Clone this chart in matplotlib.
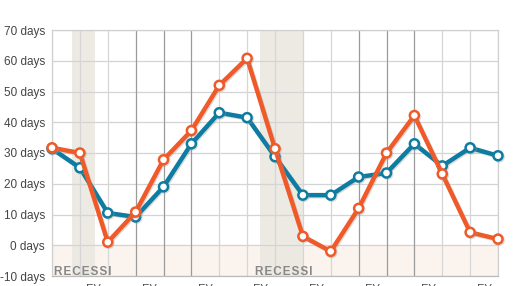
import matplotlib
matplotlib.use('Agg')
import matplotlib.pyplot as plt
import matplotlib.patheffects as pe

# values
blue = [31.4, 25.2, 10.5, 9.2, 19.0, 33.0, 43.1, 41.5, 28.8, 16.3, 16.3,
        22.2, 23.5, 33.0, 25.8, 31.7, 29.1]
orange = [31.7, 30.0, 1.0, 10.8, 27.8, 37.3, 52.0, 60.8, 31.4, 2.9, -2.0,
          12.0, 30.0, 42.2, 23.2, 4.2, 2.0]
recessions = [(0.72, 1.54), (7.46, 9.0)]
dark_grid = [3, 4, 5, 11, 12, 13]
fy_pos = [1.5, 3.5, 5.5, 7.5, 9.5, 11.5, 13.5, 15.5]
fy_labels = ['FY'] * len(fy_pos)
y_ticks = [-10, 0, 10, 20, 30, 40, 50, 60, 70]

# where the recession captions sit (layout)
caption_x = [0.07, 7.3]

plt.rcParams['font.family'] = ['Liberation Sans', 'DejaVu Sans']

W, H = 517, 286
fig = plt.figure(figsize=(W / 100, H / 100), dpi=100)
ax = fig.add_axes([52 / W, 1 - 276 / H, (498 - 52) / W, (276 - 30) / H])

x = list(range(len(blue)))
ax.set_xlim(0, len(blue) - 1)
ax.set_ylim(-10, 70)

# negative zone + recession bands
ax.axhspan(-10, 0, color='#fbf3ee', zorder=0)
for (a, b), cx in zip(recessions, caption_x):
    ax.axvspan(a, b, color='#ebe8e1', alpha=0.9, zorder=0.5, lw=0)
    ax.text(cx, -8.8, '\u200a'.join('RECESSI'), color='#888888',
            fontsize=8.5, fontweight='bold', ha='left', va='center', zorder=1)

for yv in y_ticks:
    ax.axhline(yv, color='#d4d4d4', lw=0.9, zorder=0.6)
for i in x:
    c = '#9a9a9a' if i in dark_grid else '#d6d6d6'
    ax.axvline(i, color=c, lw=0.9, zorder=0.6)

shadow = [pe.SimpleLineShadow(offset=(0.8, -0.8), shadow_color='#999999', alpha=0.35),
          pe.Normal()]
ax.plot(x, blue, color='#0e7ca1', lw=3.2, marker='o', ms=6.5, mfc='white',
        mew=1.8, mec='#0e7ca1', zorder=3, path_effects=shadow, clip_on=False)
ax.plot(x, orange, color='#ef5a28', lw=3.2, marker='o', ms=6.5, mfc='white',
        mew=1.8, mec='#ef5a28', zorder=4, path_effects=shadow, clip_on=False)

ax.set_yticks(y_ticks)
ax.set_yticklabels([f'{v} days' for v in y_ticks], color='#444444', fontsize=8.5)
ax.set_xticks(fy_pos)
ax.set_xticklabels(fy_labels, color='#555555', fontsize=8.5)
ax.tick_params(length=0, pad=5)
ax.tick_params(axis='x', pad=6)

for s in ax.spines.values():
    s.set_color('#d0d0d0')
    s.set_linewidth(0.9)
ax.spines['bottom'].set_color('#bbbbbb')

fig.savefig('out.png', dpi=100)
